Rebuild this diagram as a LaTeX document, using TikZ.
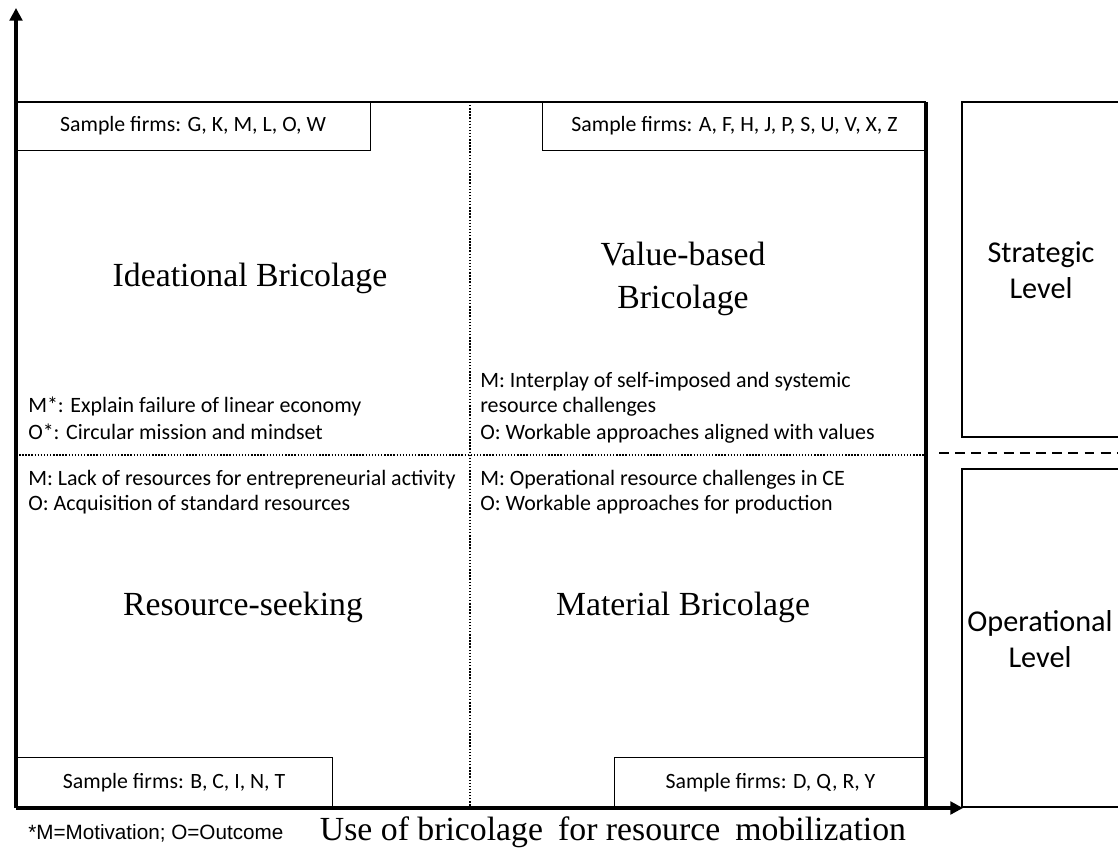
\documentclass[tikz,border=0pt]{standalone}
\usepackage{fontspec}
\setmainfont{Liberation Serif}
\newfontfamily\calfont{Carlito}
\newfontfamily\arialfont{Liberation Sans}
\usetikzlibrary{arrows.meta}

\tikzset{
  axis/.style={line width=2.2pt, -{Triangle[length=9pt,width=9pt]}},
  frametop/.style={line width=1.5pt},
  frameside/.style={line width=2.2pt},
  divider/.style={line width=0.9pt, dash pattern=on 1pt off 1.2pt},
  firmbox/.style={draw, line width=0.7pt, inner sep=0pt, outer sep=0pt,
    font=\calfont\fontsize{15.5}{18}\selectfont},
  quadtitle/.style={align=center, font=\fontsize{24}{30}\selectfont},
  detail/.style={anchor=base west, inner sep=0pt, font=\calfont\fontsize{15.6}{18}\selectfont},
  levelbox/.style={line width=1.2pt},
  leveltext/.style={align=center, font=\calfont\fontsize{21.5}{25.6}\selectfont},
  levelsplit/.style={line width=1.3pt, dash pattern=on 7pt off 4.5pt},
}

\begin{document}
\begin{tikzpicture}[x=0.025cm,y=-0.025cm]
\useasboundingbox (0,0) rectangle (1118,854);

% sample firm boxes
\node[firmbox, minimum width=8.85cm, minimum height=1.2cm, anchor=north west] (firmsTL) at (16,102) {Sample firms: G, K, M, L, O, W};
\node[firmbox, minimum width=9.575cm, minimum height=1.2cm, anchor=north east] (firmsTR) at (926,102) {Sample firms: A, F, H, J, P, S, U, V, X, Z};
\node[firmbox, minimum width=7.9cm, minimum height=1.275cm, anchor=south west] (firmsBL) at (16,808) {Sample firms: B, C, I, N, T};
\node[firmbox, minimum width=7.775cm, minimum height=1.275cm, anchor=south east] (firmsBR) at (926,808) {Sample firms: D, Q, R, Y};

% frame and quadrants
\coordinate (tl) at (16,102);
\coordinate (tr) at (926,102);
\coordinate (br) at (926,808);
\coordinate (mtop) at (470,102);
\coordinate (mbot) at (470,808);
\coordinate (mleft) at (16,455);
\coordinate (mright) at (926,455);
\draw[divider] (mtop) -- (mbot);
\draw[divider] (mleft) -- (mright);
\draw[frametop] (tl) -- (tr);
\draw[frameside] (tr) -- (br);

% axes
\coordinate (O) at (16,808);
\coordinate (ytip) at (16,8);
\coordinate (xtip) at (963,808);
\draw[axis] (O) -- (ytip);
\draw[axis] (O) -- (xtip);

% quadrant titles
\node[quadtitle] (ideational) at (250,278) {Ideational Bricolage};
\node[quadtitle] (valuebased) at (683,279) {Value-based\\Bricolage};
\node[quadtitle] (seeking) at (243,607) {Resource-seeking};
\node[quadtitle] (material) at (683,607) {Material Bricolage};

% motivation / outcome
\node[detail] (ideaM) at (28,412) {M*: Explain failure of linear economy};
\node[detail] (ideaO) at (28,439) {O*: Circular mission and mindset};
\node[detail] (valueM) at (480,387) {M: Interplay of self-imposed and systemic};
\node[detail] (valueM2) at (480,412) {resource challenges};
\node[detail] (valueO) at (480,439) {O: Workable approaches aligned with values};
\node[detail] (seekM) at (28,485) {M: Lack of resources for entrepreneurial activity};
\node[detail] (seekO) at (28,510) {O: Acquisition of standard resources};
\node[detail] (matM) at (480,485) {M: Operational resource challenges in CE};
\node[detail] (matO) at (480,510) {O: Workable approaches for production};

% levels
\draw[levelbox] (1118,102) -- (962,102) -- (962,437) -- (1118,437);
\draw[levelbox] (1118,469) -- (962,469) -- (962,807) -- (1118,807);
\coordinate (splitA) at (939,453);
\coordinate (splitB) at (1118,453);
\draw[levelsplit] (splitA) -- (splitB);
\node[leveltext] (strategic) at (1041,270) {Strategic\\Level};
\node[leveltext] (operational) at (1040,639) {Operational\\Level};

% footer
\node[anchor=base west, inner sep=0pt, font=\arialfont\fontsize{14.7}{17}\selectfont] (footnote) at (28,839) {*M=Motivation; O=Outcome};
\node[font=\fontsize{24}{28}\selectfont] (xlabel) at (613,832) {Use of bricolage\hspace{0.2em} for resource\hspace{0.2em} mobilization};
\end{tikzpicture}
\end{document}
